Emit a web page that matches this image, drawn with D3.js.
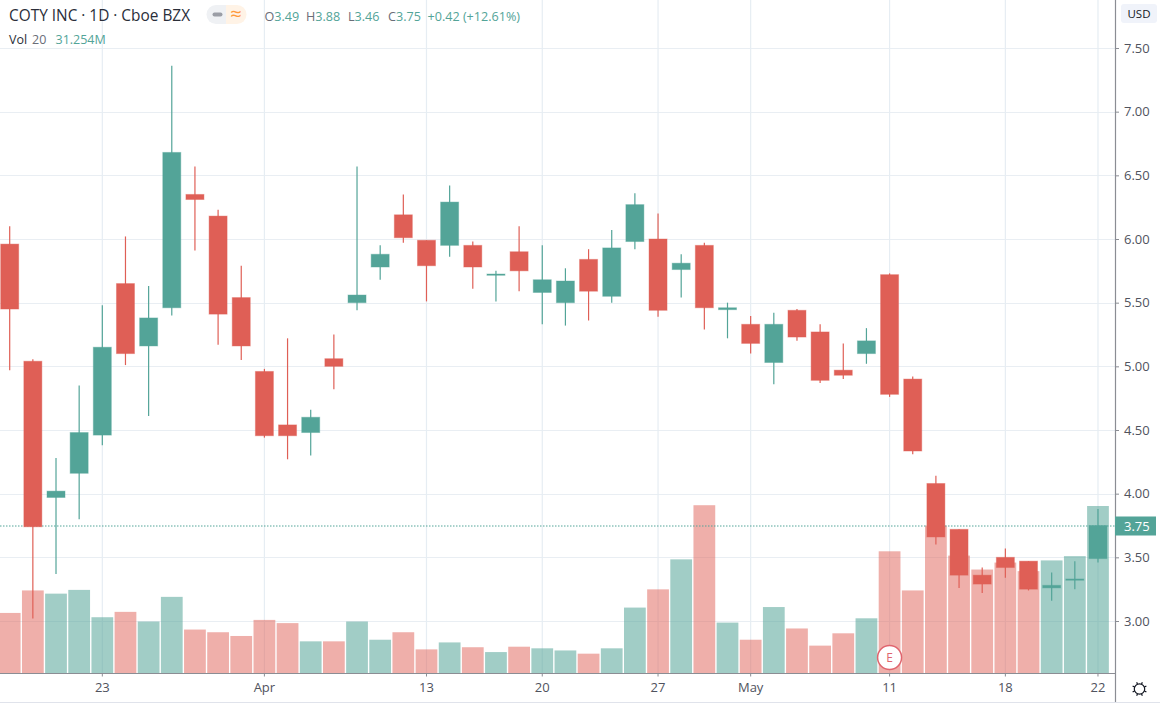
<!DOCTYPE html>
<html>
<head>
<meta charset="utf-8">
<script src="https://cdn.jsdelivr.net/npm/d3@7"></script>
<style>
    html, body { margin: 0; padding: 0; background: #fff; overflow: hidden; }
    text { font-family: "Open Sans", "Noto Sans", sans-serif; }
    .axis text { font-size: 13px; fill: #50535e; }
    .axis .domain, .axis line { stroke: #8b8d94; }
</style>
</head>
<body>
<div id="chart"></div>
<script>
// Daily trading sessions, 17 Mar - 22 May 2020
const dates = ['03-17','03-18','03-19','03-20','03-23','03-24','03-25','03-26','03-27','03-30','03-31',
    '04-01','04-02','04-03','04-06','04-07','04-08','04-09','04-13','04-14','04-15','04-16','04-17',
    '04-20','04-21','04-22','04-23','04-24','04-27','04-28','04-29','04-30',
    '05-01','05-04','05-05','05-06','05-07','05-08','05-11','05-12','05-13','05-14','05-15',
    '05-18','05-19','05-20','05-21','05-22'];

const opens = [5.96,5.04,3.97,4.16,4.46,5.65,5.16,5.46,6.35,6.18,5.54,
    4.96,4.54,4.48,5.06,5.50,5.78,6.19,5.99,5.95,5.95,5.715,5.90,
    5.58,5.50,5.84,5.55,5.98,6.00,5.76,5.95,5.445,
    5.33,5.03,5.44,5.27,4.97,5.10,5.72,4.90,4.08,3.72,3.36,
    3.50,3.47,3.26,3.32,3.49];
const closes = [5.45,3.74,4.02,4.48,5.15,5.10,5.38,6.68,6.31,5.41,5.16,
    4.455,4.455,4.60,5.00,5.56,5.88,6.01,5.79,6.29,5.78,5.725,5.75,
    5.68,5.67,5.59,5.93,6.27,5.44,5.81,5.46,5.46,
    5.18,5.33,5.23,4.89,4.93,5.20,4.78,4.335,3.66,3.36,3.29,
    3.42,3.25,3.28,3.33,3.75];
const highs = [6.10,5.055,4.28,4.85,5.48,6.02,5.63,7.36,6.57,6.23,5.79,
    4.98,5.22,4.66,5.25,6.57,5.95,6.35,5.99,6.42,5.98,5.75,6.10,
    5.95,5.77,5.92,6.07,6.36,6.20,5.88,5.97,5.50,
    5.395,5.42,5.45,5.33,5.18,5.30,5.73,4.92,4.14,3.72,3.42,
    3.57,3.47,3.38,3.47,3.88];
const lows = [4.97,3.02,3.37,3.80,4.38,5.01,4.61,5.40,5.91,5.17,5.05,
    4.44,4.27,4.30,4.82,5.44,5.68,5.97,5.51,5.86,5.61,5.51,5.59,
    5.33,5.32,5.36,5.50,5.92,5.39,5.54,5.29,5.22,
    5.10,4.86,5.20,4.87,4.90,5.02,4.76,4.31,3.60,3.26,3.22,
    3.34,3.24,3.16,3.25,3.46];
// volume in millions of shares
const volumes = [11.3,15.5,14.9,15.6,10.5,11.5,9.7,14.3,8.2,7.7,7.0,
    10.0,9.4,6.0,6.0,9.7,6.3,7.7,4.5,5.8,4.9,4.0,5.0,
    4.7,4.3,3.7,4.7,12.3,15.7,21.3,31.4,9.5,
    6.3,12.4,8.4,5.2,7.5,10.3,22.8,15.5,27.6,22.0,19.4,
    20.7,19.1,21.1,21.9,31.254];

const dateTicks = ['03-23','04-01','04-13','04-20','04-27','05-01','05-11','05-18','05-22'];
const dateTickLabels = ['23','Apr','13','20','27','May','11','18','22'];
const priceTicks = [3,3.5,4,4.5,5,5.5,6,6.5,7,7.5];
const lastPrice = 3.75;
const earningsDate = '05-11';

const legendOHLC = [['O','3.49'],['H','3.88'],['L','3.46'],['C','3.75']];

const upColor = '#53a498';
const downColor = '#df5f56';
const gridColor = '#e9eef3';

const W = 1160, H = 705;
const axisX = 1115, axisY = 673.5;

const svg = d3.select('#chart').append('svg')
    .attr('width', W)
    .attr('height', H)
    .style('display', 'block');

// Scales
const x = d3.scaleBand()
    .domain(dates)
    .range([-1.88, 1109.56])
    .paddingInner(0.06)
    .paddingOuter(0.03);
const cx = d => x(d) + x.bandwidth() / 2;

const y = d3.scaleLinear().domain([3, 7.5]).range([621, 48]);
const yVol = d3.scaleLinear().domain([0, 31.254]).range([axisY, 506]);

const isUp = i => closes[i] >= opens[i];
const colorOf = i => isUp(i) ? upColor : downColor;

// Grid
svg.append('g').selectAll('line')
    .data(priceTicks)
    .join('line')
    .attr('x1', 0).attr('x2', axisX)
    .attr('y1', d => Math.round(y(d)) + 0.5).attr('y2', d => Math.round(y(d)) + 0.5)
    .attr('stroke', gridColor)
    .attr('stroke-width', 1.2);

svg.append('g').selectAll('line')
    .data(dateTicks)
    .join('line')
    .attr('x1', d => cx(d)).attr('x2', d => cx(d))
    .attr('y1', 0).attr('y2', axisY)
    .attr('stroke', '#e6edf3')
    .attr('stroke-width', 1.2);

// Volume bars
svg.append('g').selectAll('rect')
    .data(dates)
    .join('rect')
    .attr('x', d => x(d))
    .attr('width', x.bandwidth())
    .attr('y', (d, i) => yVol(volumes[i]))
    .attr('height', (d, i) => axisY - yVol(volumes[i]))
    .attr('fill', (d, i) => colorOf(i))
    .attr('fill-opacity', (d, i) => isUp(i) ? 0.55 : 0.5);

// Last price line
svg.append('line')
    .attr('x1', 0).attr('x2', axisX)
    .attr('y1', y(lastPrice) + 0.5).attr('y2', y(lastPrice) + 0.5)
    .attr('stroke', upColor)
    .attr('stroke-width', 1)
    .attr('stroke-dasharray', '1.5,1.5');

// Candles
const candles = svg.append('g');
candles.selectAll('line')
    .data(dates)
    .join('line')
    .attr('x1', d => cx(d)).attr('x2', d => cx(d))
    .attr('y1', (d, i) => y(highs[i]))
    .attr('y2', (d, i) => y(lows[i]))
    .attr('stroke', (d, i) => colorOf(i))
    .attr('stroke-width', 1.2);

candles.selectAll('rect')
    .data(dates)
    .join('rect')
    .attr('x', d => cx(d) - 9)
    .attr('width', 18)
    .attr('y', (d, i) => y(Math.max(opens[i], closes[i])))
    .attr('height', (d, i) => Math.abs(y(opens[i]) - y(closes[i])))
    .attr('fill', (d, i) => colorOf(i))
    .attr('stroke', (d, i) => colorOf(i))
    .attr('stroke-opacity', 0.4)
    .attr('stroke-width', 1);

// Axes
const xAxis = d3.axisBottom(x)
    .tickValues(dateTicks)
    .tickFormat(d => dateTickLabels[dateTicks.indexOf(d)])
    .tickSize(3)
    .tickPadding(6)
    .tickSizeOuter(0);
const xAxisGroup = svg.append('g')
    .attr('class', 'axis')
    .attr('transform', `translate(0,${axisY})`)
    .call(xAxis);
xAxisGroup.select('.domain').attr('d', `M0,0H${axisX}`).attr('stroke-width', 1.2);

const yAxis = d3.axisRight(y)
    .tickValues(priceTicks)
    .tickFormat(d3.format('.2f'))
    .tickSize(4)
    .tickPadding(5);
const yAxisGroup = svg.append('g')
    .attr('class', 'axis')
    .attr('transform', `translate(${axisX},0)`)
    .call(yAxis);
yAxisGroup.select('.domain').attr('d', `M0.5,0V702`).attr('stroke-width', 1.2);

svg.append('line')
    .attr('x1', 0).attr('x2', W)
    .attr('y1', 702.5).attr('y2', 702.5)
    .attr('stroke', '#e0e3eb');

// Currency badge
svg.append('rect')
    .attr('x', 1121).attr('y', 4).attr('width', 36).attr('height', 19).attr('rx', 3)
    .attr('fill', '#f0f3fa');
svg.append('text')
    .attr('x', 1139).attr('y', 18)
    .attr('text-anchor', 'middle')
    .style('font-size', '11.5px')
    .attr('fill', '#131722')
    .text('USD');

// Last price label
svg.append('rect')
    .attr('x', axisX).attr('y', y(lastPrice) - 9).attr('width', 41).attr('height', 19)
    .attr('fill', upColor);
svg.append('text')
    .attr('x', 1124).attr('y', y(lastPrice) + 5)
    .style('font-size', '13px')
    .attr('fill', '#fff')
    .text(lastPrice.toFixed(2));

// Earnings marker
const eX = cx(earningsDate);
svg.append('circle')
    .attr('cx', eX).attr('cy', 657.5).attr('r', 12)
    .attr('fill', '#fff')
    .attr('stroke', '#e0656e')
    .attr('stroke-width', 1.5);
svg.append('text')
    .attr('x', eX).attr('y', 662)
    .attr('text-anchor', 'middle')
    .style('font-size', '12px')
    .attr('fill', '#e0656e')
    .text('E');

// Settings icon
const gear = svg.append('g')
    .attr('transform', 'translate(1139.5,689)')
    .attr('fill', 'none')
    .attr('stroke', '#131722')
    .attr('stroke-width', 1.2);
gear.append('circle').attr('r', 5.2);
d3.range(8).forEach(k => {
    const a = k * Math.PI / 4 + Math.PI / 8;
    gear.append('line')
        .attr('x1', 5.2 * Math.cos(a)).attr('y1', 5.2 * Math.sin(a))
        .attr('x2', 7.4 * Math.cos(a)).attr('y2', 7.4 * Math.sin(a));
});

// Header legend
svg.append('text')
    .attr('x', 9).attr('y', 20.5)
    .style('font-size', '15.4px')
    .attr('fill', '#2a2e39')
    .text('COTY INC · 1D · Cboe BZX');

// Status pill
svg.append('path')
    .attr('d', 'M226,5H216a9.5,9.5 0 0 0 0,19H226Z')
    .attr('fill', '#eff1f4');
svg.append('path')
    .attr('d', 'M226,5H237a9.5,9.5 0 0 1 0,19H226Z')
    .attr('fill', '#fff3e6');
svg.append('rect')
    .attr('x', 212.5).attr('y', 12.5).attr('width', 10).attr('height', 4).attr('rx', 2)
    .attr('fill', '#9b9ea6');
svg.append('text')
    .attr('x', 236).attr('y', 20.5)
    .attr('text-anchor', 'middle')
    .style('font-size', '20px')
    .attr('fill', '#ff9a3c')
    .text('≈');

const ohlcX = [264.5, 306, 348, 388];
const legend = svg.append('text')
    .attr('y', 20.5)
    .style('font-size', '12.6px');
legendOHLC.forEach((d, i) => {
    legend.append('tspan').attr('x', ohlcX[i]).attr('fill', '#6a6d78').text(d[0]);
    legend.append('tspan').attr('fill', upColor).text(d[1]);
});
legend.append('tspan').attr('x', 427.5).attr('fill', upColor).text('+0.42 (+12.61%)');

const volLegend = svg.append('text')
    .attr('y', 44)
    .style('font-size', '12.5px');
volLegend.append('tspan').attr('x', 9).attr('fill', '#2a2e39').text('Vol');
volLegend.append('tspan').attr('x', 32).attr('fill', '#6a6d78').text('20');
volLegend.append('tspan').attr('x', 55.5).attr('fill', upColor).text('31.254M');
</script>
</body>
</html>
